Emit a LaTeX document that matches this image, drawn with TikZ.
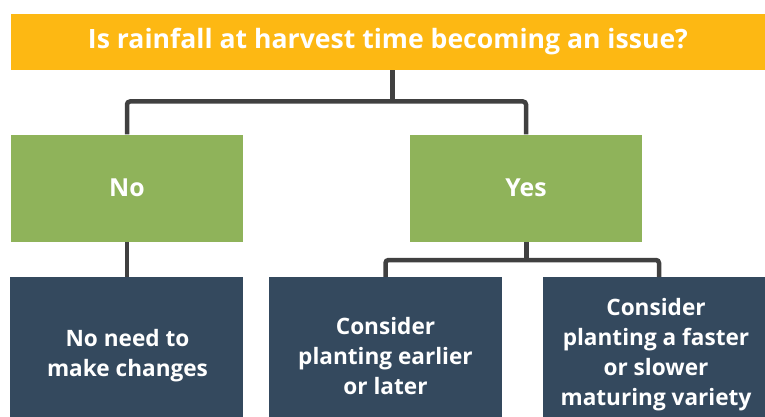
\documentclass[tikz,border=0pt]{standalone}
\usepackage{fontspec}
\setmainfont{Open Sans}
\definecolor{topc}{HTML}{FDB813}
\definecolor{greenc}{HTML}{8FB35A}
\definecolor{navyc}{HTML}{34495E}
\definecolor{linec}{HTML}{404040}
\begin{document}
\begin{tikzpicture}[x=1pt,y=-1pt,
  box/.style={draw=none,inner sep=0pt,text=white,font=\bfseries\fontsize{24.8}{31}\selectfont,align=center},
  titlebox/.style={box,fill=topc,minimum width=754pt,minimum height=56pt,font=\bfseries\fontsize{26.6}{33}\selectfont},
  choice/.style={box,fill=greenc,minimum width=232pt,minimum height=107pt},
  action/.style={box,fill=navyc,minimum height=140pt},
  txt/.style={text=white,inner sep=0pt,font=\bfseries\fontsize{22.6}{30}\selectfont,align=center},
  conn/.style={draw=linec,line width=4.5pt,rounded corners=3pt}]
\useasboundingbox (0,0) rectangle (765,417);
\node[titlebox] (top) at (388,42) {Is rainfall at harvest time becoming an issue?};
\node[choice] (no) at (127,188) {No};
\node[choice] (yes) at (526,188) {Yes};
\node[action,minimum width=233pt] (b1) at (126.5,347) {};
\node[action,minimum width=233pt] (b2) at (385.5,347) {};
\node[action,minimum width=222pt] (b3) at (654,347) {};
\node[txt] (t1) at (127.5,356) {No need to\\make changes};
\node[txt] (t2) at (385.5,356) {Consider\\planting earlier\\or later};
\node[txt] (t3) at (656,355) {Consider\\planting a faster\\or slower\\maturing variety};
\coordinate (j1) at (392.5,101.5);
\coordinate (j2) at (526.5,260);
\coordinate (j2r) at (659,260);
\draw[conn] (top.south -| j1) -- (j1);
\draw[conn] (no.north) |- (j1) -| (yes.north);
\draw[conn] (no.south) -- (no.south |- b1.north);
\draw[conn] (yes.south -| j2) -- (j2);
\draw[conn] (b2.north) |- (j2r) -- (j2r |- b3.north);
\end{tikzpicture}
\end{document}
